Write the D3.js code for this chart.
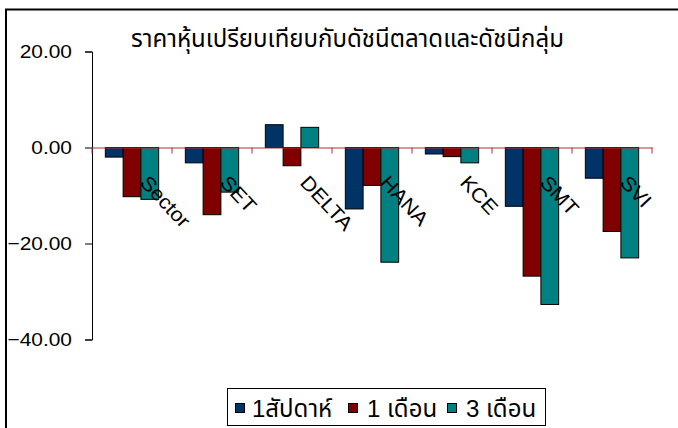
<!DOCTYPE html>
<html><head><meta charset="utf-8">
<script src="https://cdn.jsdelivr.net/npm/d3@7"></script>
<style>
html,body{margin:0;padding:0;background:#fff;}
svg{display:block;}
text{font-family:"Liberation Sans",Arial,"Noto Sans Thai","Noto Sans",sans-serif;fill:#000;}
</style></head>
<body>
<svg id="chart" width="678" height="428"></svg>
<script>
const categories = ["Sector","SET","DELTA","HANA","KCE","SMT","SVI"];
const seriesNames = ["1สัปดาห์","1 เดือน","3 เดือน"];
const week1  = [-2.0, -3.2, 4.75, -12.8, -1.35, -12.25, -6.4];
const month1 = [-10.25, -14.0, -3.8, -7.9, -1.9, -26.8, -17.5];
const month3 = [-10.8, -9.3, 4.2, -23.9, -3.2, -32.7, -23.0];
const yTicks = [20, 0, -20, -40];
const title = "ราคาหุ้นเปรียบเทียบกับดัชนีตลาดและดัชนีกลุ่ม";
const colors = ["#003366","#800000","#008080"];

const seriesValues = [week1, month1, month3];
const svg = d3.select("#chart");

// chart area border
svg.append("rect").attr("x",6).attr("y",9.5).attr("width",760).attr("height",500)
  .attr("fill","#fff").attr("stroke","#000").attr("stroke-width",2);

const y = d3.scaleLinear().domain([-40,20]).range([339.5,51.5]);
const x0 = d3.scaleBand().domain(categories).range([92,652]).paddingInner(0).paddingOuter(0);
const x1 = d3.scaleBand().domain(seriesNames).range([0,x0.bandwidth()]).paddingInner(0).paddingOuter(0.75);

// title
svg.append("text").attr("x",347.5).attr("y",47).attr("text-anchor","middle")
  .style("font-size","24px").text(title);

// bars
const g = svg.append("g");
categories.forEach((c,i)=>{
  seriesNames.forEach((s,j)=>{
    const v = seriesValues[j][i];
    g.append("rect")
      .attr("x", x0(c)+x1(s))
      .attr("y", y(Math.max(0,v)))
      .attr("width", x1.bandwidth())
      .attr("height", Math.abs(y(v)-y(0)))
      .attr("fill", colors[j]).attr("stroke","#000").attr("stroke-width",1);
  });
});

// y axis
const stretch = 1.1;
const yAxis = d3.axisLeft(y).tickValues(yTicks).tickSize(7).tickPadding(11.2)
  .tickFormat(d3.format(".2f"));
const ya = svg.append("g").attr("transform","translate(92,0)").call(yAxis);
ya.select(".domain").attr("stroke","#000");
ya.selectAll(".tick line").attr("stroke","#000");
ya.selectAll(".tick text").style("font-size","19px").attr("fill","#000")
  .attr("transform",`scale(${stretch},1)`)
  .style("font-family",'"Liberation Sans",Arial,sans-serif');

// x axis at zero
const xAxis = d3.axisBottom(x0).tickSize(0).tickFormat("");
const xa = svg.append("g").attr("transform",`translate(0,${y(0)})`).call(xAxis);
xa.select(".domain").attr("stroke","#a33").attr("stroke-width",1);
const bounds = categories.map(c=>x0(c)).concat([x0.range()[1]]);
xa.selectAll(".bt").data(bounds).enter().append("line")
  .attr("x1",d=>d).attr("x2",d=>d).attr("y1",0).attr("y2",6)
  .attr("stroke","#a33");

// category labels rotated
svg.append("g").selectAll("text").data(categories).enter().append("text")
  .attr("transform",d=>`translate(${x0(d)+x0.bandwidth()/2+7},${y(0)+36}) rotate(47) scale(1.08,1)`)
  .attr("text-anchor","start")
  .style("font-size","20px").text(d=>d);

// legend
const lg = svg.append("g");
lg.append("rect").attr("x",227.5).attr("y",388.5).attr("width",318).attr("height",37)
  .attr("fill","#fff").attr("stroke","#000").attr("stroke-width",1);
const legX = [235, 348, 447];
const legTX = [252, 367, 466];
seriesNames.forEach((s,j)=>{
  lg.append("rect").attr("x",legX[j]+0.5).attr("y",403.5).attr("width",9).attr("height",9)
    .attr("fill",colors[j]).attr("stroke","#000").attr("stroke-width",1);
  lg.append("text").attr("x",legTX[j]).attr("y",417).style("font-size","24px").text(s);
});
</script>
</body></html>
